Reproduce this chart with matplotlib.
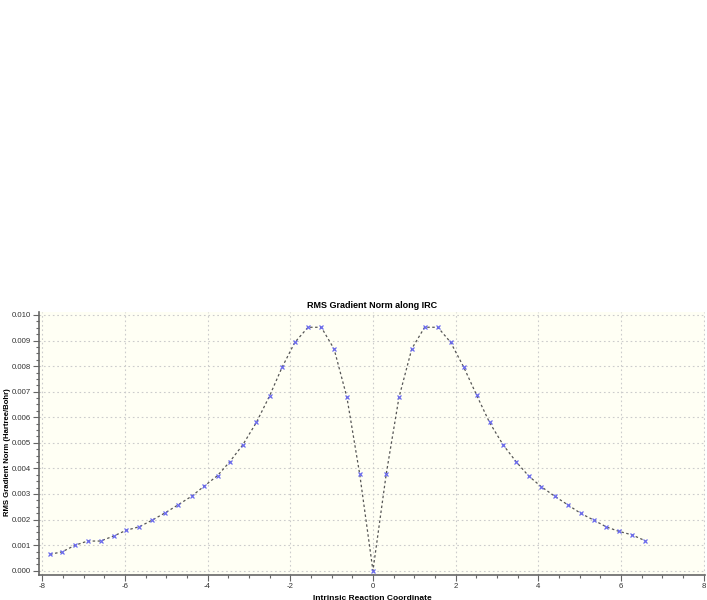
import matplotlib
matplotlib.use('Agg')
import matplotlib.pyplot as plt
from matplotlib.ticker import MultipleLocator, FormatStrFormatter

plt.rcParams.update({'font.family': ['Liberation Sans', 'DejaVu Sans'], 'font.size': 6})

# IRC points (coordinate, RMS gradient norm)
irc = [-7.81, -7.52, -7.20, -6.90, -6.59, -6.27, -5.97, -5.65, -5.34, -5.03,
       -4.72, -4.39, -4.08, -3.76, -3.47, -3.15, -2.82, -2.50, -2.20, -1.89,
       -1.57, -1.25, -0.94, -0.63, -0.32, 0.0, 0.32, 0.63, 0.94, 1.25,
       1.57, 1.88, 2.20, 2.51, 2.82, 3.15, 3.47, 3.77, 4.07, 4.40,
       4.72, 5.03, 5.34, 5.65, 5.95, 6.27, 6.59]
grad = [0.00064, 0.00074, 0.00100, 0.00116, 0.00116, 0.00136, 0.00158, 0.00172, 0.00198, 0.00226,
        0.00257, 0.00291, 0.00331, 0.00372, 0.00425, 0.00492, 0.00580, 0.00684, 0.00795, 0.00893,
        0.00952, 0.00952, 0.00867, 0.00678, 0.00377, 0.0, 0.00377, 0.00678, 0.00868, 0.00952,
        0.00952, 0.00893, 0.00795, 0.00686, 0.00580, 0.00492, 0.00425, 0.00370, 0.00329, 0.00291,
        0.00257, 0.00224, 0.00198, 0.00171, 0.00154, 0.00140, 0.00117]

fig = plt.figure(figsize=(7.07, 6.0), dpi=100)
ax = fig.add_axes([39 / 707, 25 / 600, 666 / 707, 263 / 600])
ax.set_facecolor('#fffff4')

ax.plot(irc, grad, linestyle=(0, (2, 2)), color='#555555', linewidth=0.9, zorder=2)
ax.plot(irc, grad, linestyle='none', marker='x', markersize=2.6, markeredgewidth=0.9,
        color='#6a6aee', zorder=3)

ax.set_xlim(-8.08, 8.034)
ax.set_ylim(-0.000168, 0.010117)
ax.xaxis.set_major_locator(MultipleLocator(2))
ax.xaxis.set_minor_locator(MultipleLocator(0.5))
ax.yaxis.set_major_locator(MultipleLocator(0.001))
ax.yaxis.set_minor_locator(MultipleLocator(0.00025))
ax.yaxis.set_major_formatter(FormatStrFormatter('%.3f'))
ax.xaxis.set_major_formatter(FormatStrFormatter('%d'))

ax.grid(True, which='major', linestyle=(0, (1.5, 2.5)), color='#cccccc', linewidth=0.8, zorder=0)
for s in ['top', 'right']:
    ax.spines[s].set_visible(False)
for s in ['left', 'bottom']:
    ax.spines[s].set_color('#666666')
    ax.spines[s].set_linewidth(1.2)
ax.tick_params(which='major', length=4, width=0.8, color='#666666', labelcolor='#333333', labelsize=5.6, pad=2)
ax.tick_params(which='minor', length=2, width=0.8, color='#666666')

ax.set_title('RMS Gradient Norm along IRC', fontsize=6.5, fontweight='bold', pad=3)
ax.set_xlabel('Intrinsic Reaction Coordinate', fontsize=6, fontweight='bold', labelpad=3)
ax.set_ylabel('RMS Gradient Norm (Hartree/Bohr)', fontsize=5.6, fontweight='bold')
ax.yaxis.set_label_coords(-0.0415, 0.468)

plt.savefig('out.png', dpi=100)
plt.close()
